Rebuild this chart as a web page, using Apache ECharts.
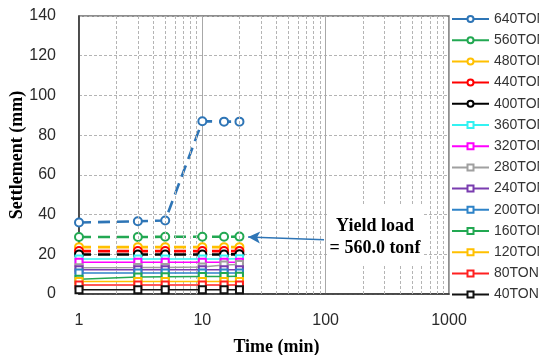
<!DOCTYPE html>
<html>
<head>
<meta charset="utf-8">
<script src="https://cdn.jsdelivr.net/npm/echarts@6/dist/echarts.min.js"></script>
<style>
  html, body { margin: 0; padding: 0; background: #fff; }
  #chart { width: 539px; height: 355px; }
</style>
</head>
<body>
<div id="chart"></div>
<script>
// Elapsed time of each reading (min)
var times = [1, 3, 5, 10, 15, 20];

// Load steps, highest first (legend order)
var loads = ['640TON', '560TON', '480TON', '440TON', '400TON', '360TON', '320TON',
             '280TON', '240TON', '200TON', '160TON', '120TON', '80TON', '40TON'];

// Settlement (mm) at each reading, one array per load step
var s640 = [36.0, 36.6, 37.0, 87.0, 86.8, 86.8];
var s560 = [28.7, 28.7, 28.8, 28.8, 28.8, 28.9];
var s480 = [23.6, 23.6, 23.6, 23.6, 23.6, 23.6];
var s440 = [21.6, 21.6, 21.6, 21.6, 21.6, 21.6];
var s400 = [19.9, 19.9, 19.9, 19.9, 19.9, 20.0];
var s360 = [17.6, 17.6, 17.6, 17.6, 17.6, 17.8];
var s320 = [16.0, 16.0, 16.0, 16.0, 16.0, 16.0];
var s280 = [13.2, 13.3, 13.4, 13.6, 14.6, 14.8];
var s240 = [12.2, 12.2, 12.2, 12.2, 12.2, 12.2];
var s200 = [10.6, 10.6, 10.6, 10.6, 10.6, 10.6];
var s160 = [7.4, 8.6, 8.7, 8.8, 8.8, 8.9];
var s120 = [6.3, 6.3, 6.3, 6.3, 6.3, 6.3];
var s80  = [4.5, 4.5, 4.5, 4.5, 4.5, 4.5];
var s40  = [2.2, 2.2, 2.2, 2.2, 2.2, 2.2];

var settlements = [s640, s560, s480, s440, s400, s360, s320, s280, s240, s200, s160, s120, s80, s40];

// Y axis ticks
var yMin = 0, yMax = 140, yStep = 20;

// Yield-load annotation
var yieldText = 'Yield load\n= 560.0 tonf';
var arrowFrom = [97, 27.3];
var arrowTo = [23.5, 28.7];

var colors = ['#2e75b6', '#22a852', '#ffc000', '#ff0000', '#000000', '#33f2f2', '#ff00ff',
              '#a0a0a0', '#7a3cb0', '#2e83c8', '#22a852', '#ffc000', '#ff2020', '#111111'];

// Intermediate log grid lines (2..9 in each decade)
var minorLines = [];
for (var d = 1; d < 1000; d *= 10) {
  for (var k = 2; k <= 9; k++) minorLines.push({ xAxis: k * d });
}

var series = [{
  name: '_grid',
  type: 'line',
  data: [],
  z: 1,
  silent: true,
  markLine: {
    silent: true,
    symbol: 'none',
    label: { show: false },
    lineStyle: { color: '#b4b4b4', type: [3, 2], width: 1 },
    emphasis: { disabled: true },
    animation: false,
    data: minorLines
  }
}];

loads.forEach(function (name, i) {
  var heavy = i < 5;
  series.push({
    name: name,
    type: 'line',
    z: 3 + i,
    data: times.map(function (t, j) { return [t, settlements[i][j]]; }),
    symbol: heavy ? 'emptyCircle' : 'emptyRect',
    symbolSize: heavy ? 8 : 7,
    color: colors[i],
    lineStyle: { color: colors[i], width: heavy ? 2.6 : 1.5, type: heavy ? [12, 7] : 'solid' },
    itemStyle: { color: colors[i], borderWidth: 1.5 },
    animation: false
  });
});

// Arrow pointing at the yield point
series[2].markLine = {
  silent: true,
  animation: false,
  label: { show: false },
  symbol: ['none', 'arrow'],
  symbolSize: [9, 12],
  lineStyle: { color: '#2e75b6', width: 1.5, type: 'solid' },
  data: [[{ coord: arrowFrom }, { coord: arrowTo }]]
};

var chart = echarts.init(document.getElementById('chart'), null, { renderer: 'canvas' });
chart.setOption({
  backgroundColor: '#fff',
  animation: false,
  grid: {
    left: 79, top: 16, right: 90, bottom: 61,
    outerBoundsMode: 'none',
    containLabel: false,
    show: true, borderColor: '#6a6a6a', borderWidth: 1.5, backgroundColor: 'transparent'
  },
  xAxis: {
    type: 'log',
    logBase: 10,
    min: 1,
    max: 1000,
    name: 'Time (min)',
    nameLocation: 'middle',
    nameGap: 44,
    nameTextStyle: {
      fontFamily: 'Liberation Serif, Times New Roman, serif',
      fontWeight: 'bold', fontSize: 18, color: '#000', padding: [0, 0, 0, 25]
    },
    axisLine: { show: true, lineStyle: { color: '#333', width: 1.5 } },
    axisTick: { show: false },
    axisLabel: {
      margin: 19,
      fontFamily: 'Liberation Sans, Arial, sans-serif',
      fontSize: 16, color: '#2a2a2a',
      formatter: function (v) { return String(Math.round(v)); }
    },
    splitLine: { show: true, lineStyle: { color: '#a8a8a8', width: 1, type: 'solid' } }
  },
  yAxis: {
    type: 'value',
    min: yMin,
    max: yMax,
    interval: yStep,
    name: 'Settlement (mm)',
    nameLocation: 'middle',
    nameMoveOverlap: false,
    nameGap: 53,
    nameTextStyle: {
      fontFamily: 'Liberation Serif, Times New Roman, serif',
      fontWeight: 'bold', fontSize: 18, color: '#000'
    },
    axisLine: { show: true, lineStyle: { color: '#333', width: 1.5 } },
    axisTick: { show: false },
    axisLabel: {
      margin: 23,
      fontFamily: 'Liberation Sans, Arial, sans-serif',
      fontSize: 16, color: '#2a2a2a'
    },
    splitLine: { show: true, lineStyle: { color: '#b4b4b4', width: 1, type: [3, 2] } }
  },
  legend: {
    orient: 'vertical',
    left: 451,
    top: 12,
    padding: 0,
    itemWidth: 37,
    itemHeight: 7.5,
    itemGap: 7.2,
    data: loads,
    lineStyle: { type: 'solid' },
    textStyle: {
      fontFamily: 'Liberation Sans, Arial, sans-serif',
      fontSize: 14, color: '#333'
    }
  },
  graphic: [{
    type: 'rect',
    z: 100,
    shape: { x: 327, y: 205, width: 96, height: 60 },
    style: { fill: '#ffffff', stroke: null }
  }, {
    type: 'text',
    z: 101,
    style: {
      text: yieldText,
      x: 375, y: 237,
      align: 'center',
      verticalAlign: 'middle',
      lineHeight: 22,
      font: 'bold 18px "Liberation Serif", "Times New Roman", serif',
      fill: '#000'
    }
  }],
  series: series
});
</script>
</body>
</html>
